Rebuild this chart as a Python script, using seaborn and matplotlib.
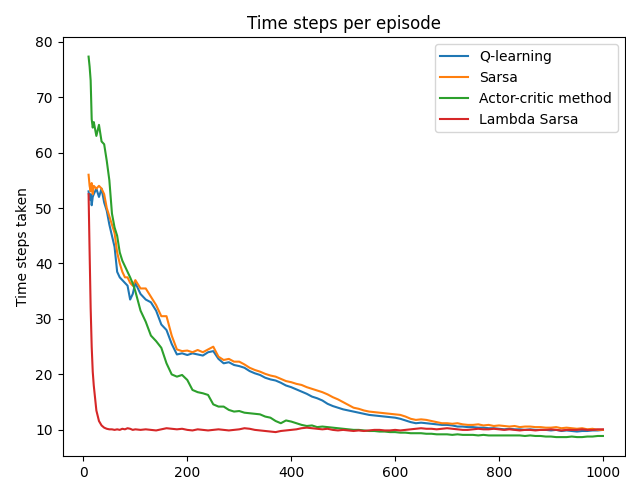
import matplotlib
matplotlib.use("Agg")
import matplotlib.pyplot as plt
import seaborn as sns
import pandas as pd

episodes = [10, 12, 14, 16, 18, 20, 25, 30, 35, 40, 45, 50, 55, 60, 65, 70, 75, 80, 85, 90, 95, 100,
            110, 120, 130, 140, 150, 160, 170, 180, 190, 200, 210, 220, 230, 240, 250, 260, 270, 280, 290, 300,
            310, 320, 330, 340, 350, 360, 370, 380, 390, 400, 410, 420, 430, 440, 450, 460, 470, 480, 490, 500,
            510, 520, 530, 540, 550, 560, 570, 580, 590, 600, 610, 620, 630, 640, 650, 660, 670, 680, 690, 700,
            710, 720, 730, 740, 750, 760, 770, 780, 790, 800, 810, 820, 830, 840, 850, 860, 870, 880, 890, 900,
            910, 920, 930, 940, 950, 960, 970, 980, 990, 1000]

q_learning = [53, 51.5, 52.5, 50.5, 52, 52.5, 53.5, 52, 53.5, 51, 49.5, 47, 45, 43, 38.5, 37.5, 37, 36.5, 36, 33.5, 34.5, 36.5,
              34.5, 33.5, 33, 31.5, 29, 28, 25.5, 23.6, 23.8, 23.5, 23.8, 23.6, 23.4, 24, 24.2, 22.8, 22, 22.2, 21.7, 21.5,
              21.2, 20.6, 20.2, 19.9, 19.4, 19.1, 18.9, 18.5, 18.0, 17.7, 17.3, 16.9, 16.5, 16.0, 15.7, 15.3, 14.7, 14.3, 14.0, 13.7,
              13.5, 13.3, 13.1, 12.9, 12.7, 12.6, 12.5, 12.4, 12.3, 12.2, 12.0, 11.7, 11.4, 11.2, 11.3, 11.2, 11.1, 11.0, 10.9, 10.9,
              10.8, 10.6, 10.6, 10.5, 10.5, 10.4, 10.4, 10.3, 10.3, 10.2, 10.1, 10.2, 10.1, 10.1, 10.0, 10.1, 10.0, 10.0, 10.0, 9.9,
              10.0, 9.8, 9.9, 9.8, 9.7, 9.8, 9.8, 9.9, 9.9, 10.0]

sarsa = [56, 54, 53, 54.5, 52.5, 54, 53.5, 54, 53.5, 52.5, 50, 48.5, 47, 45.5, 42, 40, 38.5, 37.5, 37.5, 36.5, 36, 37,
         35.5, 35.5, 34, 32.5, 30.5, 30.5, 27, 24.5, 24.2, 24.3, 24, 24.4, 24, 24.5, 25, 23.2, 22.6, 22.8, 22.3, 22.3,
         21.8, 21.2, 20.8, 20.5, 20.1, 19.8, 19.6, 19.2, 18.8, 18.6, 18.3, 18.1, 17.7, 17.4, 17.1, 16.8, 16.4, 15.9, 15.5, 15.0,
         14.5, 14.0, 13.8, 13.5, 13.3, 13.2, 13.1, 13.0, 12.9, 12.8, 12.7, 12.4, 12.0, 11.8, 11.9, 11.8, 11.6, 11.4, 11.2, 11.2,
         11.1, 11.2, 11.0, 10.9, 10.9, 11.0, 10.8, 10.9, 10.7, 10.8, 10.7, 10.6, 10.7, 10.5, 10.6, 10.6, 10.5, 10.5, 10.4, 10.4,
         10.5, 10.3, 10.4, 10.3, 10.2, 10.3, 10.1, 10.2, 10.0, 10.0]

actor_critic = [77.3, 75.5, 73, 66, 64.5, 65.5, 63, 65, 62, 61.5, 58.5, 55, 49, 46.5, 45, 42, 40.5, 39.5, 38.5, 37.5, 36.4, 35,
                31.5, 29.5, 27, 26, 24.8, 22, 20, 19.6, 19.9, 19, 17.2, 16.8, 16.6, 16.3, 14.6, 14.2, 14.2, 13.6, 13.3, 13.4,
                13.1, 13.0, 12.9, 12.8, 12.4, 12.2, 11.6, 11.2, 11.7, 11.5, 11.2, 10.9, 10.7, 10.8, 10.5, 10.6, 10.5, 10.4, 10.3, 10.2,
                10.1, 10.0, 10.0, 9.9, 9.8, 9.8, 9.7, 9.7, 9.6, 9.6, 9.5, 9.5, 9.4, 9.4, 9.4, 9.3, 9.3, 9.2, 9.2, 9.2,
                9.1, 9.2, 9.1, 9.1, 9.1, 9.0, 9.1, 9.0, 9.0, 9.0, 9.0, 9.0, 9.0, 9.0, 8.9, 9.0, 8.9, 8.9, 8.8, 8.8,
                8.7, 8.7, 8.7, 8.8, 8.7, 8.7, 8.8, 8.8, 8.9, 8.9]

lambda_sarsa = [52.5, 42, 32, 25, 20.5, 18, 13.5, 11.6, 10.8, 10.4, 10.2, 10.1, 10.1, 10.0, 10.1, 10.0, 10.2, 10.1, 10.3, 10.2, 10.0, 10.1,
                10.0, 10.1, 10.0, 9.9, 10.1, 10.3, 10.2, 10.1, 10.2, 10.0, 9.9, 10.1, 10.0, 9.9, 10.0, 10.1, 10.0, 9.9, 10.0, 10.1,
                10.3, 10.2, 10.0, 9.9, 9.8, 9.7, 9.6, 9.8, 9.9, 10.0, 10.1, 10.3, 10.4, 10.3, 10.2, 10.1, 10.2, 10.0, 9.9, 10.0,
                9.9, 9.8, 9.9, 9.8, 9.9, 10.0, 10.0, 9.9, 9.9, 10.0, 9.9, 10.0, 10.1, 10.2, 10.3, 10.2, 10.2, 10.1, 10.2, 10.3,
                10.2, 10.1, 10.0, 10.0, 10.1, 10.2, 10.1, 10.1, 10.2, 10.1, 10.0, 10.1, 10.0, 9.9, 10.0, 10.0, 9.9, 10.0, 10.0, 10.1,
                10.0, 9.9, 10.0, 10.0, 10.0, 10.1, 10.0, 10.0, 10.1, 10.1]

series_names = ["Q-learning", "Sarsa", "Actor-critic method", "Lambda Sarsa"]
series_values = [q_learning, sarsa, actor_critic, lambda_sarsa]

rows = []
for name, vals in zip(series_names, series_values):
    for ep, v in zip(episodes, vals):
        rows.append({"Episode": ep, "Steps": v, "Method": name})
df = pd.DataFrame(rows)

fig, ax = plt.subplots(figsize=(6.26, 4.83), dpi=100)
fig.subplots_adjust(left=0.100, right=0.998, top=0.923, bottom=0.056)

sns.lineplot(data=df, x="Episode", y="Steps", hue="Method", hue_order=series_names,
             palette=["#1f77b4", "#ff7f0e", "#2ca02c", "#d62728"], linewidth=1.5, ax=ax)

ax.set_xlim(-40, 1042)
ax.set_ylim(5.3, 80.8)
ax.set_title("Time steps per episode")
ax.set_xlabel("")
ax.set_ylabel("Time steps taken")
handles, labels = ax.get_legend_handles_labels()
ax.legend(handles, labels, loc="upper right")

fig.savefig("out.png", dpi=100)
